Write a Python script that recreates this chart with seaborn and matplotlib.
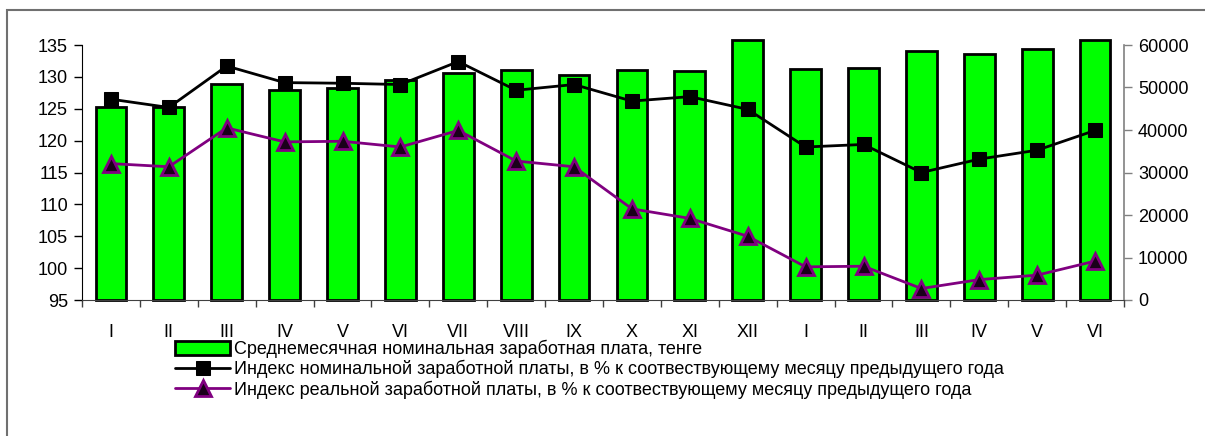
import numpy as np
import matplotlib
matplotlib.use("Agg")
import matplotlib.pyplot as plt
import matplotlib.patches as mpatches
import seaborn as sns

sns.set_style("ticks")
plt.rcParams['font.family'] = ['Liberation Sans', 'DejaVu Sans']
plt.rcParams['text.color'] = 'black'
plt.rcParams['xtick.color'] = 'black'
plt.rcParams['ytick.color'] = 'black'

months = ["I", "II", "III", "IV", "V", "VI", "VII", "VIII", "IX", "X", "XI", "XII",
          "I", "II", "III", "IV", "V", "VI"]
wages = [45400, 45500, 50800, 49300, 49800, 51700, 53300, 54100, 52900, 54100, 53900, 61200,
         54300, 54500, 58500, 57800, 59100, 61200]
nominal_idx = [126.5, 125.2, 131.7, 129.1, 129.0, 128.8, 132.4, 127.9, 128.8, 126.2, 126.9, 124.9,
               119.0, 119.4, 115.0, 117.1, 118.5, 121.6]
real_idx = [116.4, 115.9, 122.0, 119.8, 119.9, 119.0, 121.6, 116.8, 115.9, 109.3, 107.8, 105.0,
            100.2, 100.3, 96.8, 98.2, 98.9, 101.1]

lbl_bar = "Среднемесячная номинальная заработная плата, тенге"
lbl_nom = "Индекс номинальной заработной платы, в % к соотвествующему месяцу предыдущего года"
lbl_real = "Индекс реальной заработной платы, в % к соотвествующему месяцу предыдущего года"

pos = np.arange(len(months))
fs = 13

fig = plt.figure(figsize=(12.05, 4.36), dpi=100)
ax = fig.add_axes([82 / 1205, 1 - 300 / 436, (1124 - 82) / 1205, 255 / 436])
ax2 = ax.twinx()

# bars on the right scale
sns.barplot(x=pos, y=wages, ax=ax2, color="#00ff00", saturation=1, edgecolor="black",
            linewidth=2, width=0.53)
for p in ax2.patches:
    p.set_clip_on(False)

# lines on the left scale
sns.lineplot(x=pos, y=nominal_idx, ax=ax, color="black", marker="s", markersize=10,
             markeredgecolor="black", linewidth=2, label=lbl_nom)
sns.lineplot(x=pos, y=real_idx, ax=ax, color="#800080", marker="^", markersize=11,
             markerfacecolor="#1a001a", markeredgecolor="#800080", markeredgewidth=2,
             linewidth=2, label=lbl_real)
if ax.get_legend():
    ax.get_legend().remove()
if ax2.get_legend():
    ax2.get_legend().remove()

ax.set_zorder(ax2.get_zorder() + 1)
ax.patch.set_visible(False)

ax.set_xlim(-0.5, 17.5)
ax2.set_xlim(-0.5, 17.5)
ax.set_ylim(95, 135)
ax.set_yticks(np.arange(95, 136, 5))
ax2.set_ylim(0, 60000)
ax2.set_yticks(np.arange(0, 60001, 10000))

ax.set_xticks(pos)
ax.set_xticklabels(months)
ax.set_xticks(np.arange(-0.5, 18, 1), minor=True)
ax.tick_params(axis="x", which="major", bottom=True, length=0, pad=17, labelsize=fs)
ax.tick_params(axis="x", which="minor", bottom=True, length=5, width=1, direction="out",
               color="#404040")
ax.tick_params(axis="y", left=True, length=6, width=1, direction="out", labelsize=fs, pad=4)
ax2.tick_params(axis="y", right=True, length=6, width=1, direction="out", color="#808080",
                labelsize=fs, pad=4)
ax2.tick_params(axis="x", which="both", length=0, labelbottom=False)
ax.set_xlabel("")
ax.set_ylabel("")
ax2.set_ylabel("")

for a in (ax, ax2):
    a.spines["top"].set_visible(False)
ax.spines["right"].set_visible(False)
ax.spines["left"].set_color("black")
ax.spines["bottom"].set_color("#404040")
ax2.spines["left"].set_visible(False)
ax2.spines["bottom"].set_visible(False)
ax2.spines["right"].set_color("#808080")
ax2.spines["right"].set_linewidth(1.2)

# legend
h_bar = mpatches.Patch(facecolor="#00ff00", edgecolor="black", linewidth=2)
h_nom, h_real = ax.get_lines()[:2]
fig.legend([h_bar, h_nom, h_real], [lbl_bar, lbl_nom, lbl_real],
           loc="upper left", bbox_to_anchor=(166 / 1205, 1 - 331 / 436), frameon=False,
           fontsize=fs, handlelength=3.05, handleheight=0.75, handletextpad=0.2,
           labelspacing=0.1, borderpad=0)

# outer chart frame
fig.add_artist(mpatches.Rectangle((7 / 1205, -0.1), 1.2, 1 - 10 / 436 + 0.1,
                                  transform=fig.transFigure, fill=False,
                                  edgecolor="#707070", linewidth=1.5))

fig.savefig("out.png", dpi=100)
